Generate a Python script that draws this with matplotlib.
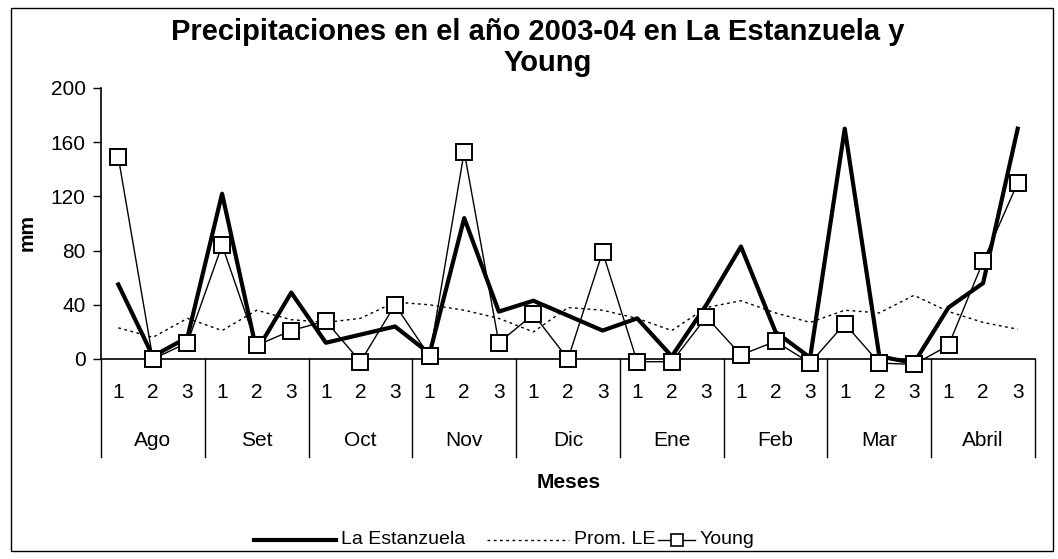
import numpy as np
import matplotlib.pyplot as plt
from matplotlib.lines import Line2D
from matplotlib.patches import Rectangle
import matplotlib.transforms as mtransforms

plt.rcParams['font.family'] = ['Liberation Sans', 'DejaVu Sans']

meses = ['Ago', 'Set', 'Oct', 'Nov', 'Dic', 'Ene', 'Feb', 'Mar', 'Abril']
decadas = ['1', '2', '3']

# mm por década
estanzuela = [55, 2, 16, 122, 6, 49, 12, 18, 24,
              4, 104, 35, 43, 32, 21, 30, 2, 40,
              83, 20, 1, 170, 2, -3, 38, 56, 170]
prom_le = [23, 16, 30, 21, 36, 29, 27, 30, 42,
           40, 36, 30, 20, 38, 36, 30, 21, 38,
           43, 34, 27, 36, 34, 47, 35, 27, 22]
young = [149, 0, 12, 84, 10, 21, 28, -2, 40,
         2, 153, 12, 33, 0, 79, -2, -2, 31,
         3, 13, -3, 26, -3, -4, 10, 72, 130]

x = np.arange(len(estanzuela))
W, H = 1058, 559

fig = plt.figure(figsize=(W / 100, H / 100), dpi=100)
ax = fig.add_axes([101 / W, 1 - 359 / H, 934 / W, 271 / H])

est_style = dict(color='black', lw=3.0)
prom_style = dict(color='black', lw=1.0, ls=(0, (2, 2.5)))
young_style = dict(color='black', lw=1.0, marker='s', mfc='white', mec='black', mew=1.4)

ax.plot(x, estanzuela, clip_on=False, zorder=3, **est_style)
ax.plot(x, prom_le, clip_on=False, zorder=2, **prom_style)
ax.plot(x, young, ms=12, clip_on=False, zorder=4, **young_style)

ax.set_xlim(-0.5, len(x) - 0.5)
ax.set_ylim(0, 200)
ax.set_yticks([0, 40, 80, 120, 160, 200])
ax.tick_params(axis='y', labelsize=15, direction='out', length=6, width=1, pad=5)
ax.set_xticks([])
for s in ['top', 'right']:
    ax.spines[s].set_visible(False)
ax.spines['left'].set_linewidth(1.2)
ax.spines['bottom'].set_linewidth(1.2)

# eje de categorías en dos niveles
trans = mtransforms.blended_transform_factory(ax.transData, ax.transAxes)
for i in x:
    ax.text(i, -34 / 271, decadas[i % 3], transform=trans, ha='center', va='center', fontsize=15)
for m, mes in enumerate(meses):
    ax.text(3 * m + 1, -81 / 271, mes, transform=trans, ha='center', va='center', fontsize=15)
for b in range(len(meses) + 1):
    ax.plot([3 * b - 0.5, 3 * b - 0.5], [0, -98 / 271], transform=trans, color='black',
            lw=1, clip_on=False)

fig.text(27 / W, 1 - 232 / H, 'mm', rotation=90, ha='center', va='center',
         fontsize=15, fontweight='bold')
fig.text(538 / W, 1 - 32 / H, 'Precipitaciones en el año 2003-04 en La Estanzuela y',
         ha='center', va='center', fontsize=21, fontweight='bold')
fig.text(548 / W, 1 - 63 / H, 'Young', ha='center', va='center', fontsize=21, fontweight='bold')
fig.text(569 / W, 1 - 483 / H, 'Meses', ha='center', va='center', fontsize=15, fontweight='bold')

# leyenda
ly = 1 - 540 / H
leg = [
    ('La Estanzuela', 254, 336, est_style),
    ('Prom. LE', 487, 569, prom_style),
    ('Young', 658, 695, young_style),
]
for label, x0, x1, st in leg:
    fig.add_artist(Line2D([x0 / W, x1 / W], [ly, ly], transform=fig.transFigure, **st,
                          markevery=[], ms=9))
    if 'marker' in st:
        fig.add_artist(Line2D([(x0 + x1) / 2 / W], [ly], transform=fig.transFigure, ls='none',
                              marker='s', ms=9, mfc='white', mec='black', mew=1.2))
    fig.text((x1 + 5) / W, ly, label, ha='left', va='center', fontsize=14)

fig.add_artist(Rectangle((11 / W, 1 - 551 / H), 1042 / W, 543 / H, transform=fig.transFigure,
                         fill=False, edgecolor='black', lw=1))

fig.savefig('out.png', dpi=100)
